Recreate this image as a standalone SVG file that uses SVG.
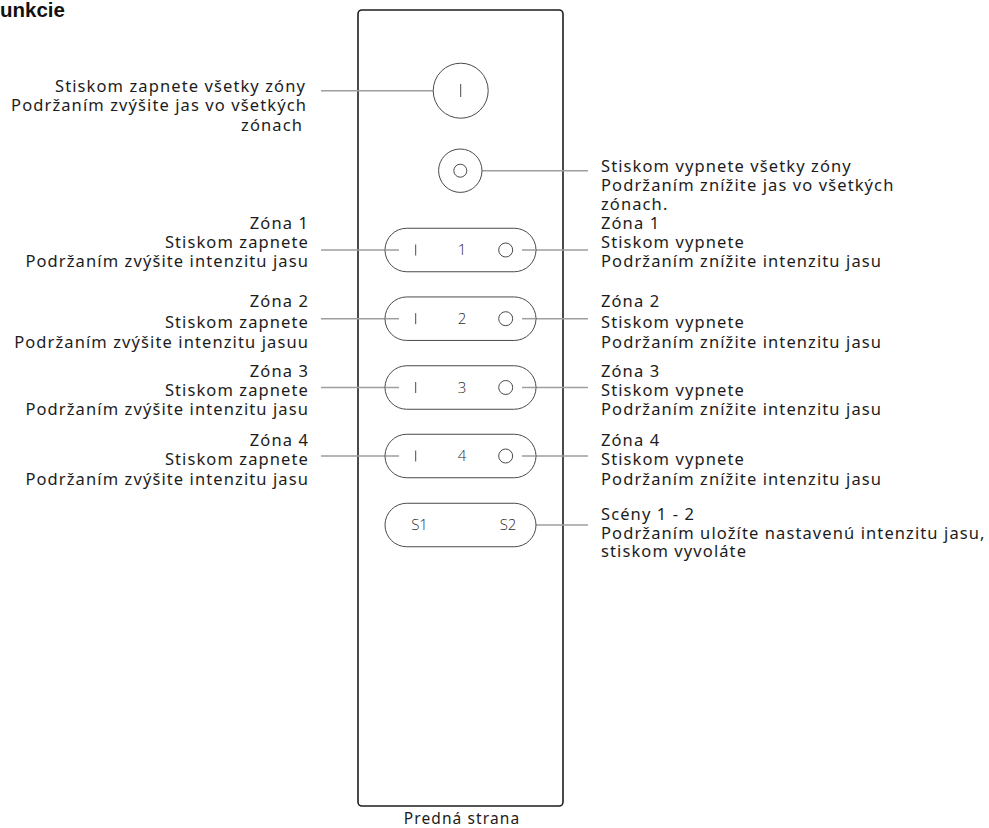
<svg xmlns="http://www.w3.org/2000/svg" width="989" height="828" viewBox="0 0 989 828">
<style>
.t{font-family:"Noto Sans","Open Sans","Liberation Sans",sans-serif;font-size:16.5px;letter-spacing:1.1px;fill:#1c1c1c}
.l{text-anchor:end}
.c{stroke:#9e9e9e;stroke-width:1.5;fill:none}
.b{stroke:#4a4a4a;stroke-width:1;fill:#fff}
.m{stroke:#4a4a4a;stroke-width:1;fill:none}
.n{font-family:"Open Sans","Noto Sans",sans-serif;font-weight:300;font-size:15px;fill:#2a2a2a;text-anchor:middle}
</style>
<rect width="989" height="828" fill="#fff"/>
<text x="0" y="16.5" font-family="Liberation Sans,Arial,sans-serif" font-weight="bold" font-size="20.5" fill="#111">unkcie</text>
<g id="remote">
<rect x="358" y="10" width="205" height="796" rx="4" fill="#fff" stroke="#1e1e1e" stroke-width="1.6"/>
<text class="t" x="462" y="823.5" text-anchor="middle" style="font-size:15.5px">Predná strana</text>
</g>
<g id="connectors">
<line class="c" x1="321" y1="90.7" x2="433" y2="90.7"/>
<line class="c" x1="482" y1="170.7" x2="588" y2="170.7"/>
<line class="c" x1="321" y1="250" x2="399" y2="250"/>
<line class="c" x1="522" y1="250" x2="588" y2="250"/>
<line class="c" x1="321" y1="318.7" x2="399" y2="318.7"/>
<line class="c" x1="522" y1="318.7" x2="588" y2="318.7"/>
<line class="c" x1="321" y1="387.5" x2="399" y2="387.5"/>
<line class="c" x1="522" y1="387.5" x2="588" y2="387.5"/>
<line class="c" x1="321" y1="456" x2="399" y2="456"/>
<line class="c" x1="522" y1="456" x2="588" y2="456"/>
<line class="c" x1="536" y1="525" x2="588" y2="525"/>
</g>
<g id="btn-on">
<circle class="b" cx="460.7" cy="90.7" r="27.5"/>
<line class="m" x1="460.7" y1="84" x2="460.7" y2="97"/>
</g>
<g id="btn-off">
<circle class="b" cx="460.3" cy="170.7" r="21.7"/>
<circle class="m" cx="460.3" cy="170.7" r="6.5"/>
</g>
<g id="zone1">
<rect class="b" x="385" y="228.25" width="151" height="43.5" rx="21.75"/>
<line class="c" x1="385" y1="250" x2="399" y2="250"/>
<line class="m" x1="415.7" y1="244.5" x2="415.7" y2="255.5"/>
<text class="n" x="462" y="255.3">1</text>
<circle class="m" cx="505.7" cy="250" r="7"/>
<line class="c" x1="522" y1="250" x2="536" y2="250"/>
</g>
<g id="zone2">
<rect class="b" x="385" y="296.95" width="151" height="43.5" rx="21.75"/>
<line class="c" x1="385" y1="318.7" x2="399" y2="318.7"/>
<line class="m" x1="415.7" y1="313.2" x2="415.7" y2="324.2"/>
<text class="n" x="462" y="324">2</text>
<circle class="m" cx="505.7" cy="318.7" r="7"/>
<line class="c" x1="522" y1="318.7" x2="536" y2="318.7"/>
</g>
<g id="zone3">
<rect class="b" x="385" y="365.75" width="151" height="43.5" rx="21.75"/>
<line class="c" x1="385" y1="387.5" x2="399" y2="387.5"/>
<line class="m" x1="415.7" y1="382" x2="415.7" y2="393"/>
<text class="n" x="462" y="392.8">3</text>
<circle class="m" cx="505.7" cy="387.5" r="7"/>
<line class="c" x1="522" y1="387.5" x2="536" y2="387.5"/>
</g>
<g id="zone4">
<rect class="b" x="385" y="434.25" width="151" height="43.5" rx="21.75"/>
<line class="c" x1="385" y1="456" x2="399" y2="456"/>
<line class="m" x1="415.7" y1="450.5" x2="415.7" y2="461.5"/>
<text class="n" x="462" y="461.3">4</text>
<circle class="m" cx="505.7" cy="456" r="7"/>
<line class="c" x1="522" y1="456" x2="536" y2="456"/>
</g>
<g id="scenes">
<rect class="b" x="385" y="503.25" width="151" height="43.5" rx="21.75"/>
<text class="n" x="419.5" y="530.3">S1</text>
<text class="n" x="508" y="530.3">S2</text>
</g>
<g id="label-on-all">
<text class="t l" x="306" y="91.5">Stiskom zapnete všetky zóny</text>
<text class="t l" x="307" y="111">Podržaním zvýšite jas vo všetkých</text>
<text class="t l" x="303" y="130.5">zónach</text>
</g>
<g id="label-off-all">
<text class="t" x="601" y="172">Stiskom vypnete všetky zóny</text>
<text class="t" x="601" y="191">Podržaním znížite jas vo všetkých</text>
<text class="t" x="601" y="209.5">zónach.</text>
</g>
<g id="label-z1-left">
<text class="t l" x="309" y="228.5">Zóna 1</text>
<text class="t l" x="309" y="247.5">Stiskom zapnete</text>
<text class="t l" x="309" y="266.5">Podržaním zvýšite intenzitu jasu</text>
</g>
<g id="label-z1-right">
<text class="t" x="601" y="228.5">Zóna 1</text>
<text class="t" x="601" y="247.5">Stiskom vypnete</text>
<text class="t" x="601" y="266.5">Podržaním znížite intenzitu jasu</text>
</g>
<g id="label-z2-left">
<text class="t l" x="309" y="307">Zóna 2</text>
<text class="t l" x="309" y="327.5">Stiskom zapnete</text>
<text class="t l" x="309" y="348">Podržaním zvýšite intenzitu jasuu</text>
</g>
<g id="label-z2-right">
<text class="t" x="601" y="307">Zóna 2</text>
<text class="t" x="601" y="327.5">Stiskom vypnete</text>
<text class="t" x="601" y="348">Podržaním znížite intenzitu jasu</text>
</g>
<g id="label-z3-left">
<text class="t l" x="309" y="376.5">Zóna 3</text>
<text class="t l" x="309" y="395.5">Stiskom zapnete</text>
<text class="t l" x="309" y="414.5">Podržaním zvýšite intenzitu jasu</text>
</g>
<g id="label-z3-right">
<text class="t" x="601" y="376.5">Zóna 3</text>
<text class="t" x="601" y="395.5">Stiskom vypnete</text>
<text class="t" x="601" y="414.5">Podržaním znížite intenzitu jasu</text>
</g>
<g id="label-z4-left">
<text class="t l" x="309" y="446">Zóna 4</text>
<text class="t l" x="309" y="465">Stiskom zapnete</text>
<text class="t l" x="309" y="485">Podržaním zvýšite intenzitu jasu</text>
</g>
<g id="label-z4-right">
<text class="t" x="601" y="446">Zóna 4</text>
<text class="t" x="601" y="465">Stiskom vypnete</text>
<text class="t" x="601" y="485">Podržaním znížite intenzitu jasu</text>
</g>
<g id="label-scenes">
<text class="t" x="601" y="520">Scény 1 - 2</text>
<text class="t" x="601" y="538.5">Podržaním uložíte nastavenú intenzitu jasu,</text>
<text class="t" x="601" y="557">stiskom vyvoláte</text>
</g>
</svg>
